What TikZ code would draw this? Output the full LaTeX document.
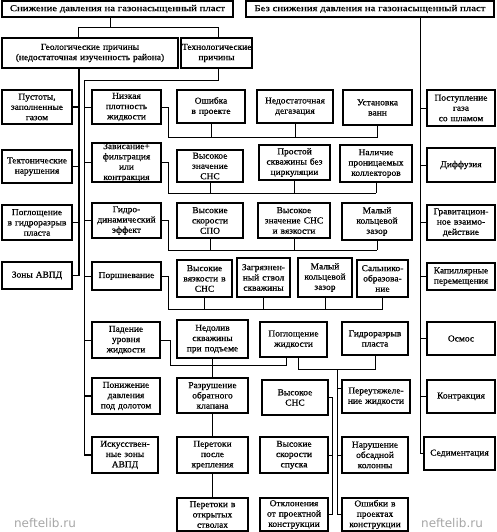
\documentclass[tikz,border=0pt]{standalone}
\usepackage{fontspec}
\setmainfont{Liberation Serif}[FakeStretch=1.05,FakeBold=0.6]
\newfontfamily\titlefont{Liberation Serif}[FakeStretch=1.2,FakeBold=0.6]
\newfontfamily\wmfont{DejaVu Sans}
\usetikzlibrary{calc}
\tikzset{
  box/.style={draw, line width=1.2pt, inner xsep=1pt, inner ysep=0pt, align=center,
    font=\fontsize{9}{10.3}\selectfont},
  titlebox/.style={draw, line width=1.2pt, inner sep=0pt, align=center,
    font=\titlefont\fontsize{9}{10}\selectfont},
  ln/.style={line width=0.8pt},
  thk/.style={line width=1.5pt},
  wm/.style={text=black!35, font=\wmfont\fontsize{12}{13}\selectfont, inner sep=0pt}
}
\newcommand\mkbox[7][box]{%
  \pgfmathsetmacro\bw{#5-#3}\pgfmathsetmacro\bh{#6-#4}%
  \pgfmathsetmacro\bcx{(#3+#5)/2}\pgfmathsetmacro\bcy{(#4+#6)/2}%
  \pgfmathsetmacro\btw{#5-#3-2}%
  \node[#1,minimum width=\bw pt,minimum height=\bh pt,text width=\btw pt] (#2) at (\bcx,\bcy) {#7};}
\begin{document}
\begin{tikzpicture}[x=1pt,y=-1pt]
\useasboundingbox (0,0) rectangle (497,532);
% top
\node[titlebox,minimum width=231pt,minimum height=16pt] (T1) at (117.5,9) {Снижение давления на газонасыщенный пласт};
\node[titlebox,minimum width=248pt,minimum height=16pt] (T2) at (370,9) {Без снижения давления на газонасыщенный пласт};
\mkbox{G}{2}{38}{178}{68}{Геологические причины\\(недостаточная изученность района)}
\mkbox{Tech}{181}{38}{252}{68}{Технологические\\причины}
% left column
\mkbox{L1}{2}{90}{72}{124}{Пустоты,\\заполненные\\газом}
\mkbox{L2}{2}{150}{72}{183}{Тектонические\\нарушения}
\mkbox{L3}{2}{205}{72}{240}{Поглощение\\в гидроразрыв\\пласта}
\mkbox{L4}{2}{262}{72}{289}{Зоны АВПД}
% middle-left column
\mkbox{M1}{92}{90}{161}{124}{Низкая\\плотность\\жидкости}
\mkbox{M2}{92}{143}{161}{182}{Зависание+\\фильтрация\\или\\контракция}
\mkbox{M3}{92}{203}{161}{238}{Гидро-\\динамический\\эффект}
\mkbox{M4}{92}{262}{161}{290}{Поршневание}
\mkbox{M5}{92}{322}{160}{358}{Падение\\уровня\\жидкости}
\mkbox{M6}{92}{378}{160}{414}{Понижение\\давления\\под долотом}
\mkbox{M7}{92}{437}{158}{473}{Искусствен-\\ные зоны\\АВПД}
% row C
\mkbox{C1}{177}{90}{245}{123}{Ошибка\\в проекте}
\mkbox{C2}{257}{90}{333}{123}{Недостаточная\\дегазация}
\mkbox{C3}{343}{90}{412}{125}{Установка\\ванн}
% row D
\mkbox{D1}{177}{150}{243}{182}{Высокое\\значение\\СНС}
\mkbox{D2}{259}{145}{330}{180}{Простой\\скважины без\\циркуляции}
\mkbox{D3}{340}{145}{412}{182}{Наличие\\проницаемых\\коллекторов}
% row E
\mkbox{E1}{177}{203}{243}{238}{Высокие\\скорости\\СПО}
\mkbox{E2}{258}{203}{330}{238}{Высокое\\значение СНС\\и вязкости}
\mkbox{E3}{342}{203}{412}{240}{Малый\\кольцевой\\зазор}
% row F
\mkbox{F1}{177}{260}{232}{297}{Высокие\\вязкости в\\СНС}
\mkbox{F2}{237}{258}{290}{297}{Загрязнен-\\ный ствол\\скважины}
\mkbox{F3}{298}{258}{352}{297}{Малый\\кольцевой\\зазор}
\mkbox{F4}{357}{260}{408}{297}{Сальнико-\\образова-\\ние}
% row G
\mkbox{G1}{177}{320}{248}{358}{Недолив\\скважины\\при подъеме}
\mkbox{G2}{260}{322}{327}{357}{Поглощение\\жидкости}
\mkbox{G3}{342}{322}{408}{355}{Гидроразрыв\\пласта}
% row H
\mkbox{H1}{177}{378}{248}{413}{Разрушение\\обратного\\клапана}
\mkbox{H2}{262}{380}{328}{415}{Высокое\\СНС}
\mkbox{H3}{342}{380}{410}{413}{Переутяжеле-\\ние жидкости}
% row I
\mkbox{I1}{177}{437}{248}{473}{Перетоки\\после\\крепления}
\mkbox{I2}{260}{437}{328}{473}{Высокие\\скорости\\спуска}
\mkbox{I3}{342}{437}{408}{473}{Нарушение\\обсадной\\колонны}
% row J
\mkbox{J1}{177}{498}{248}{531}{Перетоки в\\открытых\\стволах}
\mkbox{J2}{260}{498}{328}{531}{Отклонения\\от проектной\\конструкции}
\mkbox{J3}{342}{498}{408}{531}{Ошибки в\\проектах\\конструкции}
% right column
\mkbox{R1}{427}{90}{495}{126}{Поступление\\газа\\со шламом}
\mkbox{R2}{427}{148}{495}{182}{Диффузия}
\mkbox{R3}{427}{205}{495}{240}{Гравитацион-\\ное взаимо-\\действие}
\mkbox{R4}{427}{263}{495}{290}{Капиллярные\\перемещения}
\mkbox{R5}{427}{322}{495}{355}{Осмос}
\mkbox{R6}{427}{380}{495}{413}{Контракция}
\mkbox{R7}{424}{437}{495}{470}{Седиментация}
% watermarks
\node[wm] (wm1) at (45,523) {neftelib.ru};
\node[wm] (wm2) at (452,523) {neftelib.ru};

% ---- connectors ----
\draw[ln] (T1.south -| 110,0) -- (110,27);
\draw[ln] (G.north -| 78,0) |- (218,27) -- (Tech.north -| 218,0);
% right column
\draw[ln] (T2.south -| 420,0) |- (R7.west);
\foreach \r in {R1,R2,R3,R4,R5,R6} \draw[ln] (\r.west) -- (\r.west -| 420,0);
% geological
\draw[thk] (G.south -| 79,0) |- (L4.east);
\foreach \l in {L1,L2,L3} \draw[thk] (\l.east) -- (\l.east -| 79,0);
% technological
\draw[ln] (Tech.south -| 218,0) |- (84,80) |- (M7.west);
\foreach \m in {M1,M2,M3,M4,M5} \draw[ln] (\m.west) -- (\m.west -| 84,0);
\draw[thk] (M6.west) -- (M6.west -| 84,0);
\draw[thk] (M7.west) -- (M7.west -| 85,0);
% row C
\draw[ln] (M1.east) -| (168,137) -- (C3.south |- 0,137);
\foreach \c in {C1,C2,C3} \draw[ln] (\c.south) -- (\c.south |- 0,137);
% row D
\draw[ln] (M2.east) -| (168,193) -- (D3.south |- 0,193);
\foreach \c in {D1,D2,D3} \draw[ln] (\c.south) -- (\c.south |- 0,193);
% row E
\draw[ln] (M3.east) -| (168,250) -- (E3.south |- 0,250);
\foreach \c in {E1,E2,E3} \draw[ln] (\c.south) -- (\c.south |- 0,250);
% row F
\draw[ln] (M4.east) -| (168,309) -- (F4.south |- 0,309);
\foreach \c in {F1,F2,F3,F4} \draw[ln] (\c.south) -- (\c.south |- 0,309);
% row G
\coordinate (g2a) at ([xshift=-7pt]G2.south);
\coordinate (g2b) at ([xshift=5pt]G2.south);
\draw[ln] (M5.east) -| (170,365) -| (g2a);
\draw[ln] (G1.south) -- (H1.north);
\draw[ln] (g2b) |- (G3.south |- 0,369) -- (G3.south);
\coordinate (k1) at (337,369);
\draw[ln] (k1) |- (J3.west);
\coordinate (h3s) at ([yshift=8pt]H3.west);
\draw[ln] (h3s) -- (h3s -| 337,0);
\draw[ln] (I3.west) -- (I3.west -| 337,0);
% chain at x=332
\draw[ln] (H2.east) -| (J2.east -| 332,0) -- (J2.east);
\draw[ln] (I2.east) -- (I2.east -| 332,0);
% column under G1
\draw[ln] (H1.south) -- (I1.north);
\draw[ln] (I1.south) -- (J1.north);
\end{tikzpicture}
\end{document}
